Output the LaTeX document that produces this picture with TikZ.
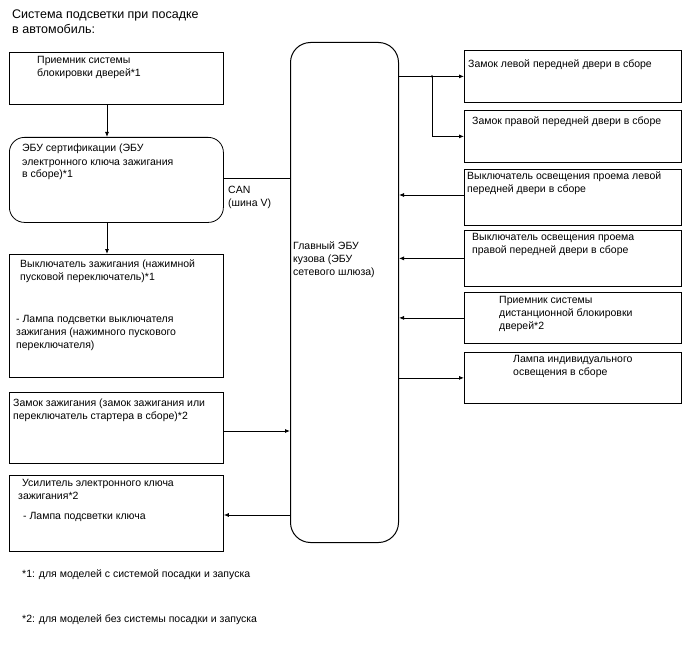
\documentclass[tikz,border=0pt]{standalone}
\usepackage{fontspec}
\setmainfont{Liberation Sans}
\usetikzlibrary{arrows.meta}
\begin{document}
\begin{tikzpicture}[x=1pt,y=-1pt,
  box/.style={draw, line width=0.8pt, anchor=north west, inner sep=0pt, minimum width=217pt},
  lbox/.style={box, minimum width=214pt},
  txt/.style={anchor=base west, inner sep=0pt, align=left, font=\fontsize{10.5}{13}\selectfont},
  arr/.style={line width=0.8pt, -{Latex[length=5pt,width=4pt]}},
  canbus/.style={draw=black, double=white, double distance=1.3pt, line width=0.8pt}]
\useasboundingbox (0,0) rectangle (688,658);

% title (anchor at baseline of last line)
\node[anchor=base west, inner sep=0pt, align=left, font=\fontsize{12.5}{14.5}\selectfont] (title) at (12,33.5) {Система подсветки при посадке\\в автомобиль:};

% left boxes
\node[lbox, minimum height=52pt] (b1) at (9,52) {};
\node[lbox, minimum height=85pt, rounded corners=15pt] (b2) at (9,137) {};
\node[lbox, minimum height=123pt] (b3) at (9,254) {};
\node[lbox, minimum height=71pt] (b4) at (9,392) {};
\node[lbox, minimum height=76pt] (b5) at (9,475) {};

% main box
\node[box, minimum width=108pt, minimum height=500pt, rounded corners=20pt, line width=1pt] (main) at (290,42) {};

% right boxes
\node[box, minimum height=52pt] (r1) at (464,50) {};
\node[box, minimum height=52pt] (r2) at (464,110) {};
\node[box, minimum height=56pt] (r3) at (464,169) {};
\node[box, minimum height=56pt] (r4) at (464,230) {};
\node[box, minimum height=51pt] (r5) at (464,292) {};
\node[box, minimum height=51pt] (r6) at (464,352) {};

% texts (positions = baseline of last line)
\node[txt] (t1) at (37,77) {Приемник системы\\блокировки дверей*1};
\node[txt] (t2) at (22,178) {ЭБУ сертификации (ЭБУ\\электронного ключа зажигания\\в сборе)*1};
\node[txt] (t3a) at (20,280) {Выключатель зажигания (нажимной\\пусковой переключатель)*1};
\node[txt] (t3b) at (16,348) {- Лампа подсветки выключателя\\зажигания (нажимного пускового\\переключателя)};
\node[txt] (t4) at (13,419) {Замок зажигания (замок зажигания или\\переключатель стартера в сборе)*2};
\node[txt] (t5a) at (22,486) {Усилитель электронного ключа};
\node[txt] (t5b) at (18,499) {зажигания*2};
\node[txt] (t5c) at (23,519) {- Лампа подсветки ключа};
\node[txt] (can) at (228,206) {CAN\\(шина V)};
\node[txt] (tm) at (293,275) {Главный ЭБУ\\кузова (ЭБУ\\сетевого шлюза)};
\node[txt] (tr1) at (468,68) {Замок левой передней двери в сборе};
\node[txt] (tr2) at (472,125) {Замок правой передней двери в сборе};
\node[txt] (tr3) at (467,192) {Выключатель освещения проема левой\\передней двери в сборе};
\node[txt] (tr4) at (472,253) {Выключатель освещения проема\\правой передней двери в сборе};
\node[txt] (tr5) at (499,329) {Приемник системы\\дистанционной блокировки\\дверей*2};
\node[txt] (tr6) at (513,375) {Лампа индивидуального\\освещения в сборе};
\node[txt] (f1) at (22,577) {*1: для моделей с системой посадки и запуска};
\node[txt] (f2) at (22,622) {*2: для моделей без системы посадки и запуска};

% connectors left
\draw[arr] (107,0 |- b1.south) -- (107,0 |- b2.north);
\draw[arr] (107,0 |- b2.south) -- (107,0 |- b3.north);
\draw[canbus] (b2.east) -- (b2.east -| main.west);
\draw[arr] (b4.east |- 0,431) -- (main.west |- 0,431);
\draw[arr] (main.west |- 0,515) -- (b5.east |- 0,515);

% connectors right
\coordinate (j) at (432,0 |- r1.west);
\draw[arr] (main.east |- r1.west) -- (r1.west);
\draw[arr] (j) -- (j |- r2.west) -- (r2.west);
\fill (j) circle (1.3pt);
\draw[arr] (r3.west |- 0,195) -- (main.east |- 0,195);
\draw[arr] (r4.west) -- (r4.west -| main.east);
\draw[arr] (r5.west) -- (r5.west -| main.east);
\draw[arr] (main.east |- r6.west) -- (r6.west);
\end{tikzpicture}
\end{document}
